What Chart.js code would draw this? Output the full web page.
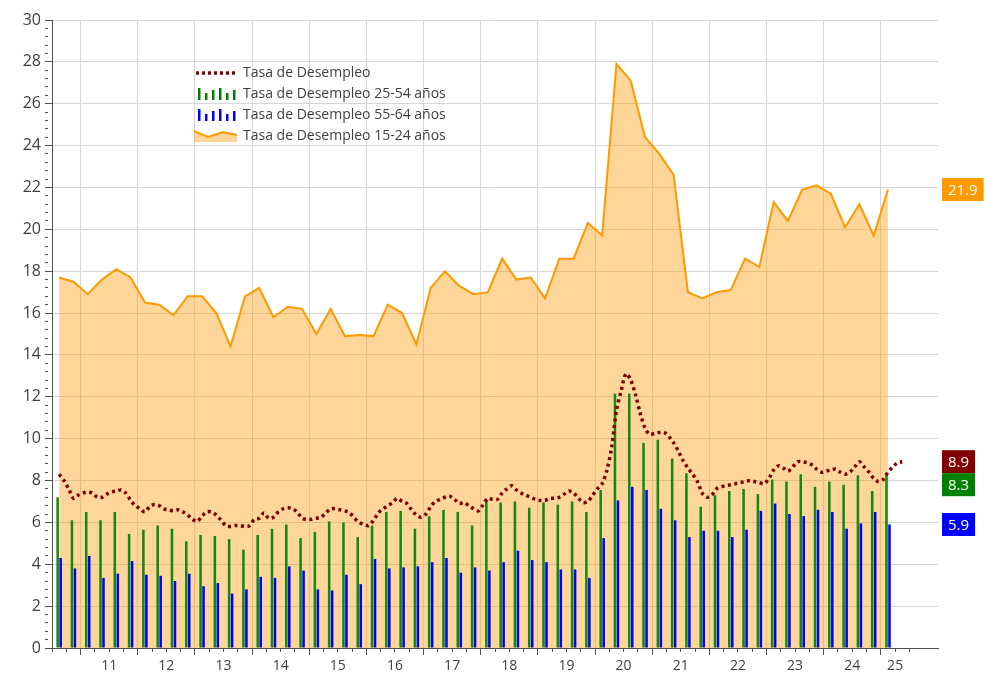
<!DOCTYPE html>
<html>
<head>
<meta charset="utf-8">
<title>Tasa de Desempleo</title>
<script src="https://cdn.jsdelivr.net/npm/chart.js@4.4.1/dist/chart.umd.min.js"></script>
<style>
  body { margin: 0; background: #fff; }
  canvas { display: block; }
</style>
</head>
<body>
<canvas id="grafico" width="1005" height="685"></canvas>
<script>
// trimestres desde 2010 T3 hasta 2025 T1
const tasa1524 = [
  17.7, 17.5, 16.9, 17.6, 18.1, 17.7, 16.5, 16.4, 15.9, 16.8,
  16.8, 16.0, 14.4, 16.8, 17.2, 15.8, 16.3, 16.2, 15.0, 16.2,
  14.9, 14.95, 14.9, 16.4, 16.0, 14.5, 17.2, 18.0, 17.3, 16.9,
  17.0, 18.6, 17.6, 17.7, 16.7, 18.6, 18.6, 20.3, 19.7, 27.9,
  27.1, 24.4, 23.6, 22.6, 17.0, 16.7, 17.0, 17.1, 18.6, 18.2,
  21.3, 20.4, 21.9, 22.1, 21.7, 20.1, 21.2, 19.7, 21.9
];
const tasa2554 = [
  7.2, 6.1, 6.5, 6.1, 6.5, 5.45, 5.65, 5.85, 5.7, 5.1,
  5.4, 5.35, 5.2, 4.7, 5.4, 5.7, 5.9, 5.25, 5.55, 6.05,
  6.0, 5.3, 5.85, 6.5, 6.55, 5.7, 6.3, 6.6, 6.5, 5.85,
  7.05, 6.95, 7.0, 6.7, 6.95, 6.85, 7.0, 6.5, 7.55, 12.15,
  12.15, 9.8, 9.95, 9.05, 8.35, 6.75, 7.3, 7.5, 7.6, 7.35,
  8.05, 7.95, 8.3, 7.7, 7.95, 7.8, 8.25, 7.5, 8.3
];
const tasa5564 = [
  4.3, 3.8, 4.4, 3.35, 3.55, 4.15, 3.5, 3.45, 3.2, 3.55,
  2.95, 3.1, 2.6, 2.8, 3.4, 3.35, 3.9, 3.7, 2.8, 2.75,
  3.5, 3.05, 4.25, 3.8, 3.85, 3.9, 4.1, 4.3, 3.6, 3.85,
  3.7, 4.1, 4.65, 4.2, 4.1, 3.75, 3.75, 3.35, 5.25, 7.05,
  7.7, 7.55, 6.65, 6.1, 5.3, 5.6, 5.6, 5.3, 5.65, 6.55,
  6.9, 6.4, 6.3, 6.6, 6.5, 5.7, 5.95, 6.5, 5.9
];
// tasa general mensual (trimestre movil), desde agosto 2010
const tasaTotal = [
  8.3, 8.0, 7.6, 7.15, 7.3, 7.4, 7.45, 7.4, 7.2, 7.2, 7.35, 7.45,
  7.5, 7.55, 7.4, 7.05, 6.8, 6.65, 6.5, 6.75, 6.85, 6.8, 6.65, 6.6,
  6.55, 6.6, 6.5, 6.35, 6.15, 6.05, 6.3, 6.5, 6.5, 6.35, 6.1, 5.85,
  5.8, 5.85, 5.85, 5.8, 5.85, 6.15, 6.2, 6.45,
  6.2, 6.25, 6.5, 6.65, 6.7, 6.65, 6.5, 6.2, 6.15, 6.15, 6.2, 6.25,
  6.45, 6.65, 6.65, 6.6, 6.55, 6.45, 6.2, 6.0, 5.9, 5.85, 6.1, 6.45,
  6.65, 6.8, 6.95, 7.15, 7.0, 6.9, 6.6, 6.35, 6.25, 6.4, 6.75, 7.0,
  7.1, 7.2, 7.25, 7.1, 6.9, 6.95, 6.8, 6.65, 6.55,
  6.85, 7.15, 7.1, 7.1, 7.4, 7.6, 7.75, 7.55, 7.4, 7.3, 7.2, 7.1,
  7.05, 7.05, 7.15, 7.15, 7.2, 7.35, 7.5, 7.4, 7.15, 6.95, 7.0, 7.3,
  7.6, 7.85, 8.5, 9.6, 11.35, 12.3, 13.1, 12.8, 12.1, 11.2, 10.5, 10.2,
  10.25, 10.3, 10.3, 10.1, 9.8, 9.4, 8.95, 8.6, 8.3,
  7.95, 7.4, 7.2, 7.3, 7.6, 7.7, 7.75, 7.8, 7.85, 7.9, 7.95, 8.0,
  7.95, 7.9, 7.85, 8.1, 8.5, 8.7, 8.6, 8.45, 8.65, 8.9, 8.9, 8.85,
  8.75, 8.55, 8.4, 8.45, 8.5, 8.55, 8.4, 8.3, 8.4, 8.65, 8.9, 8.65,
  8.4, 8.1, 7.95, 8.05, 8.4, 8.65, 8.85, 8.9
];
const anios = ['11', '12', '13', '14', '15', '16', '17', '18', '19', '20', '21', '22', '23', '24', '25'];

const colorTexto = '#404040';
const colorGrilla = '#d4d7d9';
const colorEje = '#505050';
const fuente = { family: '"Open Sans", sans-serif', size: 14 };

// eje x en meses: 0 = julio 2010
const primerMes = 1;
const finDatos = 3 * Math.floor((primerMes + tasaTotal.length - 1) / 3) + 2.5;
const inicioAnio = m => (m - 5.5) % 12 === 0;

const ticksX = [];
for (let v = -0.5; v <= finDatos; v += 3) ticksX.push(v);

const etiquetaX = {};
anios.forEach((a, j) => {
  const ini = 5.5 + 12 * j;
  const fin = Math.min(ini + 12, finDatos);
  etiquetaX[((ini + fin) / 2).toFixed(1)] = a;
});

const ticksY = [];
for (let k = 0; k <= 75; k++) ticksY.push(Math.round(k * 4) / 10);

const porTrimestre = arr => arr.map((v, i) => ({ x: 3 * i + 1, y: v }));
const porMes = arr => arr.map((v, i) => ({ x: primerMes + i, y: v }));

function dibujarLeyenda(chart) {
  const c = chart.ctx;
  const x0 = chart.chartArea.left + 142;
  const y0 = chart.chartArea.top + 53;
  const paso = 21;
  c.save();
  // linea punteada
  c.strokeStyle = '#800000';
  c.lineWidth = 3.5;
  c.setLineDash([3, 3]);
  c.beginPath();
  c.moveTo(x0 + 2, y0);
  c.lineTo(x0 + 44, y0);
  c.stroke();
  c.setLineDash([]);
  // barras
  const altos = [12, 7, 10, 12, 7, 10];
  [['#008000', 1], ['#0000ff', 2]].forEach(([color, fila]) => {
    c.fillStyle = color;
    const base = y0 + fila * paso + 6;
    altos.forEach((h, k) => c.fillRect(x0 + 4 + k * 7, base - h, 2.5, h));
  });
  // area
  const ya = y0 + 3 * paso;
  c.beginPath();
  c.moveTo(x0, ya - 5);
  c.lineTo(x0 + 14, ya + 1);
  c.lineTo(x0 + 29, ya - 4);
  c.lineTo(x0 + 43, ya - 1);
  c.lineTo(x0 + 43, ya + 6);
  c.lineTo(x0, ya + 6);
  c.closePath();
  c.fillStyle = 'rgba(255,153,0,0.4)';
  c.fill();
  c.beginPath();
  c.moveTo(x0, ya - 5);
  c.lineTo(x0 + 14, ya + 1);
  c.lineTo(x0 + 29, ya - 4);
  c.lineTo(x0 + 43, ya - 1);
  c.strokeStyle = '#ff9900';
  c.lineWidth = 2;
  c.stroke();
  // textos
  c.fillStyle = colorTexto;
  c.font = '14px "Open Sans", sans-serif';
  c.textBaseline = 'middle';
  chart.data.datasets.forEach((ds, k) => c.fillText(ds.label, x0 + 49, y0 + k * paso));
  c.restore();
}

function dibujarUltimos(chart) {
  const c = chart.ctx;
  const ys = chart.scales.y;
  const alto = 23;
  const items = chart.data.datasets.map(ds => {
    const v = ds.data[ds.data.length - 1].y;
    return { texto: v.toFixed(1), color: ds.colorEtiqueta, y: ys.getPixelForValue(v) - alto / 2 };
  }).sort((a, b) => a.y - b.y);
  c.save();
  c.font = '15px "Open Sans", sans-serif';
  c.textBaseline = 'middle';
  let limite = -Infinity;
  items.forEach(it => {
    const top = Math.max(it.y, limite);
    const ancho = c.measureText(it.texto).width + 12;
    const x = chart.chartArea.right + 4;
    c.fillStyle = it.color;
    c.fillRect(x, top, ancho, alto);
    c.fillStyle = '#fff';
    c.fillText(it.texto, x + 6, top + alto / 2 + 1);
    limite = top + alto;
  });
  c.restore();
}

const extras = {
  id: 'extras',
  afterDraw(chart) {
    dibujarLeyenda(chart);
    dibujarUltimos(chart);
  }
};

const ctx = document.getElementById('grafico').getContext('2d');
new Chart(ctx, {
  type: 'bar',
  data: {
    datasets: [
      {
        type: 'line',
        label: 'Tasa de Desempleo',
        data: porMes(tasaTotal),
        borderColor: '#800000',
        borderWidth: 3.5,
        borderDash: [3, 3.5],
        pointRadius: 0,
        tension: 0.3,
        colorEtiqueta: '#800000',
        order: 0
      },
      {
        label: 'Tasa de Desempleo 25-54 años',
        data: porTrimestre(tasa2554),
        backgroundColor: '#118a11',
        categoryPercentage: 0.42,
        barPercentage: 0.85,
        colorEtiqueta: '#008000',
        order: 1
      },
      {
        label: 'Tasa de Desempleo 55-64 años',
        data: porTrimestre(tasa5564),
        backgroundColor: '#0000ff',
        categoryPercentage: 0.42,
        barPercentage: 0.85,
        colorEtiqueta: '#0000ff',
        order: 1
      },
      {
        type: 'line',
        label: 'Tasa de Desempleo 15-24 años',
        data: porTrimestre(tasa1524),
        borderColor: '#ff9900',
        borderWidth: 2,
        backgroundColor: 'rgba(255,153,0,0.4)',
        fill: 'origin',
        pointRadius: 0,
        tension: 0,
        colorEtiqueta: '#ff9900',
        order: 2
      }
    ]
  },
  options: {
    responsive: false,
    animation: false,
    layout: { padding: { left: 20, right: 67, top: 20, bottom: 7 } },
    plugins: { legend: { display: false }, tooltip: { enabled: false } },
    scales: {
      x: {
        type: 'linear',
        min: -0.5,
        max: 185.5,
        offset: false,
        afterBuildTicks: axis => { axis.ticks = ticksX.map(v => ({ value: v })); },
        afterFit: axis => { axis.height = 30; },
        ticks: {
          autoSkip: false,
          maxRotation: 0,
          padding: 3,
          color: colorTexto,
          font: fuente,
          callback: v => etiquetaX[Number(v).toFixed(1)] || ''
        },
        grid: {
          offset: false,
          color: c => (c.tick && inicioAnio(c.tick.value) ? colorGrilla : 'rgba(0,0,0,0)'),
          tickColor: colorEje,
          tickLength: 7,
          tickBorderDash: c => (c.tick && inicioAnio(c.tick.value) ? [] : [3, 20])
        },
        border: { color: colorEje }
      },
      y: {
        min: 0,
        max: 30,
        afterBuildTicks: axis => { axis.ticks = ticksY.map(v => ({ value: v })); },
        afterFit: axis => { axis.width = 32; },
        ticks: {
          autoSkip: false,
          padding: 4,
          color: colorTexto,
          font: { family: fuente.family, size: 16 },
          callback: (v, i) => (i % 5 === 0 ? String(v) : '')
        },
        grid: {
          color: c => (c.index % 5 === 0 ? colorGrilla : 'rgba(0,0,0,0)'),
          tickColor: colorEje,
          tickLength: 7,
          tickBorderDash: c => (c.index % 5 === 0 ? [] : [3, 20])
        },
        border: { color: colorEje }
      }
    }
  },
  plugins: [extras]
});
</script>
</body>
</html>
